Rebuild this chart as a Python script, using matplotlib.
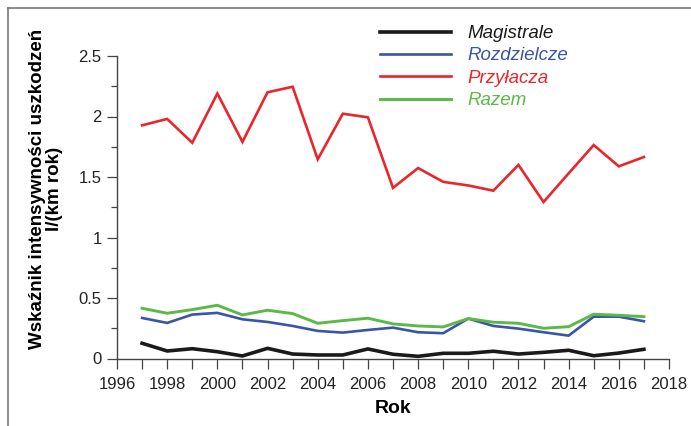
import matplotlib
matplotlib.use('Agg')
import matplotlib.pyplot as plt
from matplotlib.lines import Line2D
from matplotlib.ticker import MultipleLocator

plt.rcParams['font.family'] = ['Liberation Sans', 'DejaVu Sans']

# dane
lata = list(range(1997, 2018))
magistrale = [0.126, 0.062, 0.081, 0.056, 0.021, 0.084, 0.037, 0.029, 0.029, 0.079, 0.035,
              0.018, 0.043, 0.043, 0.060, 0.037, 0.051, 0.068, 0.023, 0.045, 0.076]
rozdzielcze = [0.335, 0.294, 0.363, 0.377, 0.324, 0.302, 0.269, 0.228, 0.214, 0.236, 0.255,
               0.217, 0.209, 0.330, 0.269, 0.247, 0.217, 0.189, 0.346, 0.346, 0.308]
przylacza = [1.927, 1.98, 1.783, 2.19, 1.79, 2.20, 2.246, 1.646, 2.023, 1.993, 1.41,
             1.574, 1.46, 1.43, 1.387, 1.60, 1.293, 1.53, 1.764, 1.588, 1.665]
razem = [0.415, 0.374, 0.404, 0.44, 0.36, 0.399, 0.371, 0.291, 0.313, 0.333, 0.286,
         0.269, 0.261, 0.33, 0.30, 0.291, 0.25, 0.263, 0.366, 0.357, 0.346]

nazwy = ['Magistrale', 'Rozdzielcze', 'Przyłacza', 'Razem']
kolory = ['#1a1a1a', '#3a55a4', '#e8262b', '#5cb947']
grubosci = [2.6, 1.9, 1.9, 2.1]

fig = plt.figure(figsize=(6.91, 4.26), dpi=100)
ax = fig.add_axes([117/691, 1-358.5/426, 552/691, 302.5/426])

for dane, nazwa, kol, lw in zip([magistrale, rozdzielcze, przylacza, razem], nazwy, kolory, grubosci):
    ax.plot(lata, dane, color=kol, lw=lw, label=nazwa, solid_joinstyle='miter')

ax.set_xlim(1996, 2018)
ax.set_ylim(0, 2.5)
ax.xaxis.set_major_locator(MultipleLocator(2))
ax.xaxis.set_minor_locator(MultipleLocator(1))
ax.yaxis.set_minor_locator(MultipleLocator(0.25))
ax.set_yticks([0, 0.5, 1, 1.5, 2, 2.5])
ax.set_yticklabels(['0', '0.5', '1', '1.5', '2', '2.5'])

for s in ['top', 'right']:
    ax.spines[s].set_visible(False)
for s in ['left', 'bottom']:
    ax.spines[s].set_color('#444444')
    ax.spines[s].set_linewidth(1.0)

ax.tick_params(axis='both', which='major', direction='out', length=7, width=0.9,
               color='#444444', labelsize=12, labelcolor='#222222', pad=4)
ax.tick_params(axis='x', which='major', pad=6)
ax.tick_params(axis='x', which='minor', direction='out', length=7, width=0.9, color='#444444')
ax.tick_params(axis='y', which='minor', direction='out', length=4, width=0.9, color='#444444')

ax.set_xlabel('Rok', fontsize=14, fontweight='bold', labelpad=6)
fig.text(46/691, 1-189/426, 'Wskaźnik intensywności uszkodzeń\nl/(km rok)', rotation=90,
         ha='center', va='center', multialignment='center', fontsize=13.5,
         fontweight='bold', linespacing=1.0)

leg = ax.legend(loc='upper left', bbox_to_anchor=(380/691, 1-25/426), bbox_transform=fig.transFigure,
                frameon=False, handlelength=3.8, handletextpad=0.85, labelspacing=0.28,
                borderpad=0, borderaxespad=0, labelcolor='linecolor',
                prop={'style': 'italic', 'size': 13.5})

# ramka
fig.add_artist(Line2D([8/691, 1], [1-8/426, 1-8/426], transform=fig.transFigure, color='#777777', lw=1.2))
fig.add_artist(Line2D([8/691, 8/691], [0, 1-8/426], transform=fig.transFigure, color='#777777', lw=1.2))

fig.savefig('out.png', dpi=100)
